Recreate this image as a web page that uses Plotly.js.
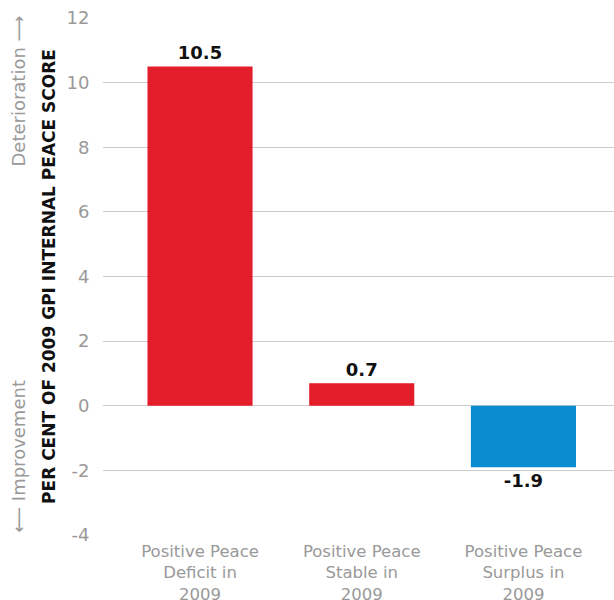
<!DOCTYPE html>
<html>
<head>
<meta charset="utf-8">
<script src="https://cdn.plot.ly/plotly-3.0.1.min.js"></script>
<style>html,body{margin:0;padding:0;background:#fff;}</style>
</head>
<body>
<div id="chart" style="width:614px;height:600px;"></div>
<script>
const categories = ["Positive Peace<br>Deficit in<br>2009", "Positive Peace<br>Stable in<br>2009", "Positive Peace<br>Surplus in<br>2009"];
const values = [10.5, 0.7, -1.9];
const labels = ["10.5", "0.7", "-1.9"];
const colors = ["#e31e2a", "#e31e2a", "#0a8dd0"];
const yTicks = [-4, -2, 0, 2, 4, 6, 8, 10, 12];

const trace = {
  type: 'bar',
  x: [0, 1, 2],
  y: values,
  text: labels,
  textposition: 'outside',
  textfont: {family: 'DejaVu Sans, sans-serif', size: 18, color: '#111', weight: 700},
  marker: {color: colors},
  width: 0.65,
  cliponaxis: false,
  hoverinfo: 'none'
};

const layout = {
  width: 614, height: 600,
  margin: {l: 103, r: 0, t: 18, b: 65},
  paper_bgcolor: '#fff', plot_bgcolor: '#fff',
  showlegend: false,
  font: {family: 'DejaVu Sans, sans-serif'},
  xaxis: {
    range: [-0.6, 2.56],
    tickvals: [0, 1, 2],
    ticktext: categories,
    tickfont: {size: 16.5, color: '#999999'},
    showgrid: false, zeroline: false, showline: false,
    ticks: 'outside', ticklen: 1, tickcolor: 'rgba(0,0,0,0)'
  },
  yaxis: {
    range: [-4, 12],
    tickvals: yTicks,
    ticktext: yTicks.map(String),
    tickfont: {size: 18, color: '#999999'},
    showgrid: true, gridcolor: '#cccccc', gridwidth: 1,
    zeroline: false, showline: false,
    ticks: 'outside', ticklen: 9, tickcolor: 'rgba(0,0,0,0)',
    title: {text: 'PER CENT OF 2009 GPI INTERNAL PEACE SCORE', font: {family: 'DejaVu Sans, sans-serif', size: 17, color: '#111', weight: 700}, standoff: 6}
  },
  annotations: [
    {xref: 'paper', yref: 'paper', x: -0.166, y: 1.008, xanchor: 'center', yanchor: 'top',
     text: 'Deterioration ⟶', textangle: -90, showarrow: false,
     font: {size: 18, color: '#999999'}},
    {xref: 'paper', yref: 'paper', x: -0.166, y: 0.0, xanchor: 'center', yanchor: 'bottom',
     text: '⟵ Improvement', textangle: -90, showarrow: false,
     font: {size: 18, color: '#999999'}}
  ]
};

Plotly.newPlot('chart', [trace], layout, {displayModeBar: false, staticPlot: true});
</script>
</body>
</html>
